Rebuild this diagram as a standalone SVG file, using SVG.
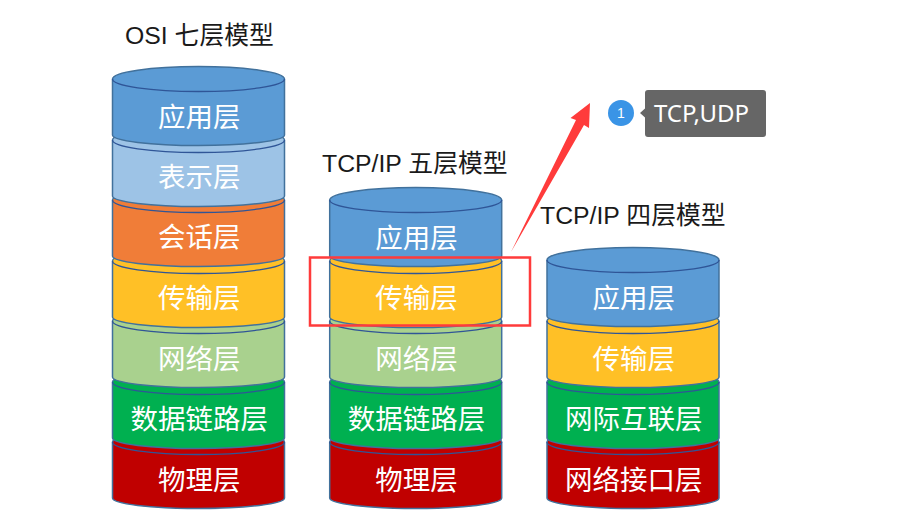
<svg xmlns="http://www.w3.org/2000/svg" width="907" height="517" viewBox="0 0 907 517">
<style>
.title{font-family:"Liberation Sans","Noto Sans CJK SC",sans-serif;font-size:24.800px;fill:#1a1a1a}
.lb{font-family:"Noto Sans CJK SC","Liberation Sans",sans-serif;font-size:27.500px;fill:#fff;text-anchor:middle;font-weight:400}
.b{stroke:#41719c;stroke-width:1.500}
.a{fill:none;stroke:#2f5597;stroke-width:1.300}
</style>
<defs>
<path id="body" d="M-86 0V56A86 10.500 0 0 0 86 56V0A86 12.500 0 0 0 -86 0Z"/>
<path id="top" d="M-86 0A86 12.500 0 0 0 86 0"/>
</defs>
<rect width="907" height="517" fill="#fff"/>
<g id="osi-title"><text class="title" x="125" y="44">OSI 七层模型</text></g>
<g id="tcp5-title"><text class="title" x="322" y="172">TCP/IP 五层模型</text></g>
<g id="tcp4-title"><text class="title" x="540" y="224">TCP/IP 四层模型</text></g>

<g id="osi-physical" transform="translate(198.500 442)"><use href="#body" class="b" fill="#c00000"/><use href="#top" class="a"/><text class="lb" x="0.700" y="48">物理层</text></g>
<g id="osi-datalink" transform="translate(198.500 382)"><use href="#body" class="b" fill="#00b050"/><use href="#top" class="a"/><text class="lb" x="0.700" y="47">数据链路层</text></g>
<g id="osi-network" transform="translate(198.500 321)"><use href="#body" class="b" fill="#a9d18e"/><use href="#top" class="a"/><text class="lb" x="0.700" y="48">网络层</text></g>
<g id="osi-transport" transform="translate(198.500 261)"><use href="#body" class="b" fill="#ffc026"/><use href="#top" class="a"/><text class="lb" x="0.700" y="47">传输层</text></g>
<g id="osi-session" transform="translate(198.500 200)"><use href="#body" class="b" fill="#f07d38"/><use href="#top" class="a"/><text class="lb" x="0.700" y="47">会话层</text></g>
<g id="osi-presentation" transform="translate(198.500 140)"><use href="#body" class="b" fill="#9dc3e6"/><use href="#top" class="a"/><text class="lb" x="0.700" y="47">表示层</text></g>
<g id="osi-application" transform="translate(198.500 79)"><use href="#body" class="b" fill="#5b9bd5"/><use href="#top" class="a"/><text class="lb" x="0.700" y="48">应用层</text></g>

<g id="tcp5-physical" transform="translate(415.700 442)"><use href="#body" class="b" fill="#c00000"/><use href="#top" class="a"/><text class="lb" x="0.700" y="48">物理层</text></g>
<g id="tcp5-datalink" transform="translate(415.700 382)"><use href="#body" class="b" fill="#00b050"/><use href="#top" class="a"/><text class="lb" x="0.700" y="47">数据链路层</text></g>
<g id="tcp5-network" transform="translate(415.700 321)"><use href="#body" class="b" fill="#a9d18e"/><use href="#top" class="a"/><text class="lb" x="0.700" y="48">网络层</text></g>
<g id="tcp5-transport" transform="translate(415.700 261)"><use href="#body" class="b" fill="#ffc026"/><use href="#top" class="a"/><text class="lb" x="0.700" y="47">传输层</text></g>
<g id="tcp5-application" transform="translate(415.700 200)"><use href="#body" class="b" fill="#5b9bd5"/><use href="#top" class="a"/><text class="lb" x="0.700" y="48">应用层</text></g>

<g id="tcp4-link" transform="translate(633 442)"><use href="#body" class="b" fill="#c00000"/><use href="#top" class="a"/><text class="lb" x="0.700" y="48">网络接口层</text></g>
<g id="tcp4-internet" transform="translate(633 382)"><use href="#body" class="b" fill="#00b050"/><use href="#top" class="a"/><text class="lb" x="0.700" y="47">网际互联层</text></g>
<g id="tcp4-transport" transform="translate(633 321)"><use href="#body" class="b" fill="#ffc026"/><use href="#top" class="a"/><text class="lb" x="0.700" y="48">传输层</text></g>
<g id="tcp4-application" transform="translate(633 260)"><use href="#body" class="b" fill="#5b9bd5"/><use href="#top" class="a"/><text class="lb" x="0.700" y="48">应用层</text></g>

<g id="connectors">
<rect x="310" y="257.500" width="220" height="68" fill="none" stroke="#ff3b3b" stroke-width="2.500"/>
<polygon points="511,252 576,120 570.500,118 590,103 589,128 584,125" fill="#ff3b3b"/>
</g>
<g id="badge">
<circle cx="621" cy="113" r="13" fill="#3a94e6"/>
<text x="621" y="118" font-family="Liberation Sans,sans-serif" font-size="14" fill="#fff" text-anchor="middle">1</text>
</g>
<g id="tooltip">
<path d="M648 90H763a3 3 0 0 1 3 3V134a3 3 0 0 1 -3 3H648a3 3 0 0 1 -3 -3V117.500L640 113L645 108.500V93a3 3 0 0 1 3 -3Z" fill="#666"/>
<text x="654" y="122" font-family="Noto Sans,Liberation Sans,sans-serif" font-size="24" fill="#fff">TCP,UDP</text>
</g>
</svg>
